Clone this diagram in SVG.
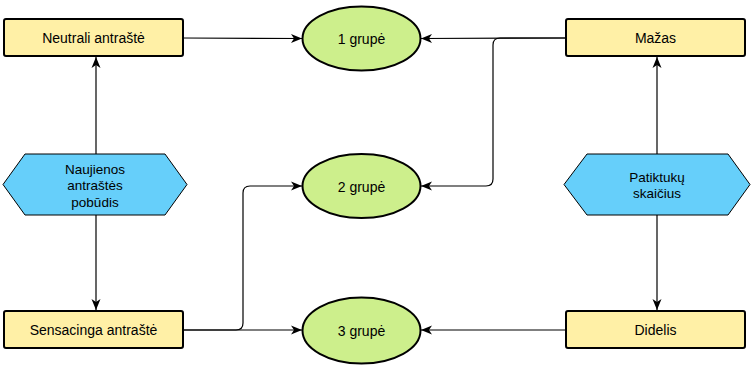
<svg xmlns="http://www.w3.org/2000/svg" width="752" height="370" viewBox="0 0 752 370">
<style>
.box{fill:#FFF0A6;stroke:#000;stroke-width:2}
.ell{fill:#CDEF8C;stroke:#000;stroke-width:2}
.hex{fill:#66CFFA;stroke:#000;stroke-width:1}
.t{font-family:"Liberation Sans",Arial,sans-serif;font-size:14px;fill:#000;text-anchor:middle;dominant-baseline:central}
.th{font-size:13.5px}
.c{fill:none;stroke:#000;stroke-width:1.2;marker-end:url(#a)}
</style>
<defs>
<marker id="a" markerUnits="userSpaceOnUse" markerWidth="12" markerHeight="10" viewBox="0 0 12 10" refX="11" refY="5" orient="auto">
<path d="M0,0.5 L11,5 L0,9.5 L3,5 z" fill="#000"/>
</marker>
</defs>
<rect width="752" height="370" fill="#fff"/>
<g id="connectors">
<path class="c" d="M183,38 L302,38.5"/>
<path class="c" d="M96,154 L96,57"/>
<path class="c" d="M96,215 L96,310"/>
<path class="c" d="M183,330 L302,330"/>
<path class="c" d="M183,330 L236,330 Q243,330 243,323 L243,193 Q243,186 250,186 L302,186"/>
<path class="c" d="M566,38 L421,38.5"/>
<path class="c" d="M566,38 L500,38 Q493,38 493,45 L493,179 Q493,186 486,186 L421,186"/>
<path class="c" d="M657,154 L657,57"/>
<path class="c" d="M657,215 L657,310"/>
<path class="c" d="M566,330 L421,330"/>
</g>
<g id="neutrali"><rect class="box" x="4" y="19" width="179" height="37" rx="2"/><text class="t" x="93.5" y="38">Neutrali antraštė</text></g>
<g id="sensacinga"><rect class="box" x="4" y="311" width="179" height="37" rx="2"/><text class="t" x="93.5" y="330">Sensacinga antraštė</text></g>
<g id="mazas"><rect class="box" x="566" y="19" width="179" height="37" rx="2"/><text class="t" x="655.5" y="38">Mažas</text></g>
<g id="didelis"><rect class="box" x="566" y="311" width="179" height="37" rx="2"/><text class="t" x="655.5" y="330">Didelis</text></g>
<g id="grupe1"><ellipse class="ell" cx="361.5" cy="38.5" rx="59" ry="32"/><text class="t" x="361.5" y="39">1 grupė</text></g>
<g id="grupe2"><ellipse class="ell" cx="361.5" cy="186" rx="59" ry="32"/><text class="t" x="361.5" y="186.5">2 grupė</text></g>
<g id="grupe3"><ellipse class="ell" cx="361.5" cy="330.5" rx="59" ry="33"/><text class="t" x="361.5" y="331">3 grupė</text></g>
<g id="pobudis"><polygon class="hex" points="3,184.5 25,154 165,154 187,184.5 165,215 25,215"/>
<text class="t th" x="95" y="169">Naujienos</text><text class="t th" x="95" y="185.5">antraštės</text><text class="t th" x="95" y="202">pobūdis</text></g>
<g id="patiktuku"><polygon class="hex" points="564,184.5 587,154 728,154 750,184.5 728,215 587,215"/>
<text class="t th" x="657" y="177">Patiktukų</text><text class="t th" x="657" y="193">skaičius</text></g>
</svg>
